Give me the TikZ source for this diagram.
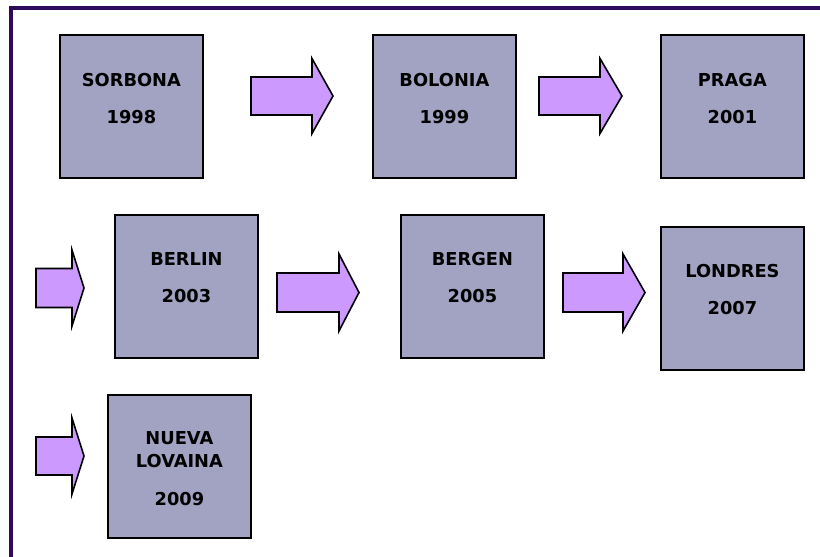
\documentclass[tikz,border=0pt]{standalone}
\usepackage{fontspec}
\setmainfont{DejaVu Sans}
\usetikzlibrary{calc}

\definecolor{framepurple}{RGB}{46,10,90}
\definecolor{boxfill}{RGB}{162,162,194}
\definecolor{arrowfill}{RGB}{204,153,255}

\tikzset{
  stagebox/.style={draw=black, line width=1.8pt, fill=boxfill,
    minimum width=143pt, minimum height=143pt, anchor=north west, inner sep=0pt},
  stagetext/.style={anchor=base, inner sep=0pt,
    font=\bfseries\fontsize{17.8}{17.8}\selectfont},
  blockarrow/.style={draw=black, line width=1.6pt, fill=arrowfill, line join=miter},
  frameline/.style={draw=framepurple, line width=4pt, line join=miter}
}

% block arrow: shaft start x, shaft end x, tip x, centre y, shaft half-height, head half-height
\newcommand{\flowarrow}[6]{%
  \draw[blockarrow] (#1,#4-#5) -- (#2,#4-#5) -- (#2,#4-#6) -- (#3,#4)
    -- (#2,#4+#6) -- (#2,#4+#5) -- (#1,#4+#5) -- cycle;}

\begin{document}
\begin{tikzpicture}[x=1pt,y=-1pt]
  \useasboundingbox (0,0) rectangle (820,557);
  \fill[white] (0,0) rectangle (820,557);

  % frame along the left and top edges
  \draw[frameline] (10.5,557) -- (10.5,8) -- (820,8);

  % first row
  \node[stagebox] (sorbona) at (59,34) {};
  \node[stagetext] (sorbonaName) at ($(sorbona.north)+(0,52)$) {SORBONA};
  \node[stagetext] (sorbonaYear) at ($(sorbona.north)+(0,89)$) {1998};

  \node[stagebox] (bolonia) at (372,34) {};
  \node[stagetext] (boloniaName) at ($(bolonia.north)+(0,52)$) {BOLONIA};
  \node[stagetext] (boloniaYear) at ($(bolonia.north)+(0,89)$) {1999};

  \node[stagebox] (praga) at (660,34) {};
  \node[stagetext] (pragaName) at ($(praga.north)+(0,52)$) {PRAGA};
  \node[stagetext] (pragaYear) at ($(praga.north)+(0,89)$) {2001};

  \flowarrow{251}{312}{333}{96}{19}{37.5}
  \flowarrow{539}{600}{622}{96}{19}{37.5}

  % second row
  \node[stagebox] (berlin) at (114,214) {};
  \node[stagetext] (berlinName) at ($(berlin.north)+(0,51)$) {BERLIN};
  \node[stagetext] (berlinYear) at ($(berlin.north)+(0,88)$) {2003};

  \node[stagebox] (bergen) at (400,214) {};
  \node[stagetext] (bergenName) at ($(bergen.north)+(0,51)$) {BERGEN};
  \node[stagetext] (bergenYear) at ($(bergen.north)+(0,88)$) {2005};

  \node[stagebox] (londres) at (660,226) {};
  \node[stagetext] (londresName) at ($(londres.north)+(0,51)$) {LONDRES};
  \node[stagetext] (londresYear) at ($(londres.north)+(0,88)$) {2007};

  \flowarrow{36}{72}{84}{288}{19.5}{38}
  \flowarrow{277}{339}{359}{292.5}{19.5}{38.5}
  \flowarrow{563}{623}{645}{292.5}{19.5}{38.5}

  % third row
  \node[stagebox] (lovaina) at (107,394) {};
  \node[stagetext] (lovainaName1) at ($(lovaina.north)+(0,50)$) {NUEVA};
  \node[stagetext] (lovainaName2) at ($(lovaina.north)+(0,73)$) {LOVAINA};
  \node[stagetext] (lovainaYear) at ($(lovaina.north)+(0,111)$) {2009};

  \flowarrow{36}{72}{84}{456}{19}{38}
\end{tikzpicture}
\end{document}
